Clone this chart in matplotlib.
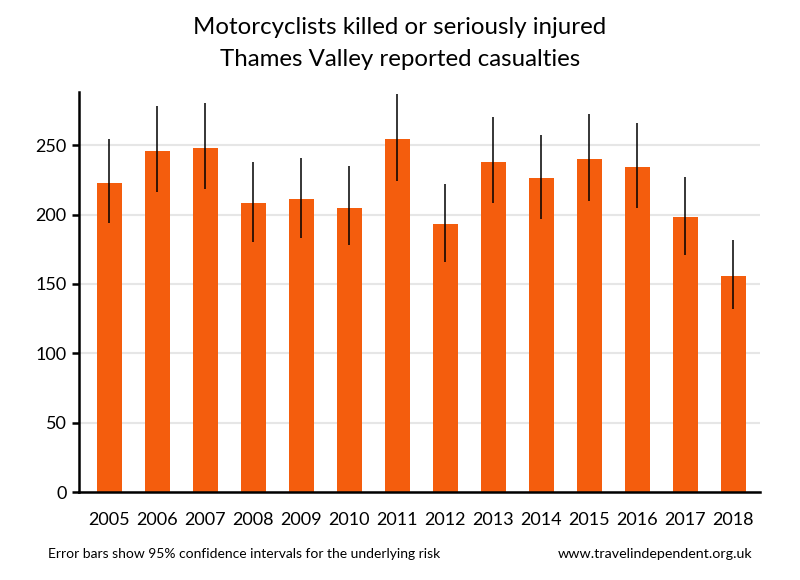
import matplotlib
matplotlib.use('Agg')
import matplotlib.pyplot as plt
import numpy as np

# data
years = ['2005', '2006', '2007', '2008', '2009', '2010', '2011',
         '2012', '2013', '2014', '2015', '2016', '2017', '2018']
casualties = [223, 246, 248, 208, 211, 205, 254, 193, 238, 226, 240, 234, 198, 156]
ci_low = [194, 216, 218, 180, 183, 178, 224, 166, 208, 197, 210, 205, 171, 132]
ci_high = [254, 278, 280, 238, 241, 235, 287, 222, 270, 257, 272, 266, 227, 182]

plt.rcParams['font.family'] = ['Lato', 'DejaVu Sans']

fig = plt.figure(figsize=(8, 5.8), dpi=100)
ax = fig.add_axes([0.099, 0.151, 0.851, 0.690])

x = np.arange(len(years))
ax.bar(x, casualties, width=0.52, color='#F45D0D', zorder=2)

# error bars: plain vertical lines, no caps
ax.vlines(x, ci_low, ci_high, color='black', linewidth=1.1, zorder=3)

ax.set_xlim(-0.63, len(years) - 1 + 0.56)
ax.set_ylim(0, 288)
ax.set_yticks([0, 50, 100, 150, 200, 250])
ax.set_xticks(x)
ax.set_xticklabels(years)

ax.yaxis.grid(True, color='#E6E6E6', linewidth=1.5, zorder=0)
ax.set_axisbelow(True)

for side in ['top', 'right']:
    ax.spines[side].set_visible(False)
ax.spines['left'].set_linewidth(1.8)
ax.spines['bottom'].set_linewidth(1.8)

ax.tick_params(axis='y', length=5, width=1.8, labelsize=13, pad=4)
ax.tick_params(axis='x', length=0, labelsize=13, pad=14)

fig.text(0.5, 0.952, 'Motorcyclists killed or seriously injured',
         ha='center', va='center', fontsize=17.3)
fig.text(0.5, 0.897, 'Thames Valley reported casualties',
         ha='center', va='center', fontsize=17.3)

fig.text(0.06, 0.045, 'Error bars show 95% confidence intervals for the underlying risk',
         ha='left', va='center', fontsize=10)
fig.text(0.94, 0.045, 'www.travelindependent.org.uk',
         ha='right', va='center', fontsize=10.3)

fig.savefig('out.png', dpi=100)
